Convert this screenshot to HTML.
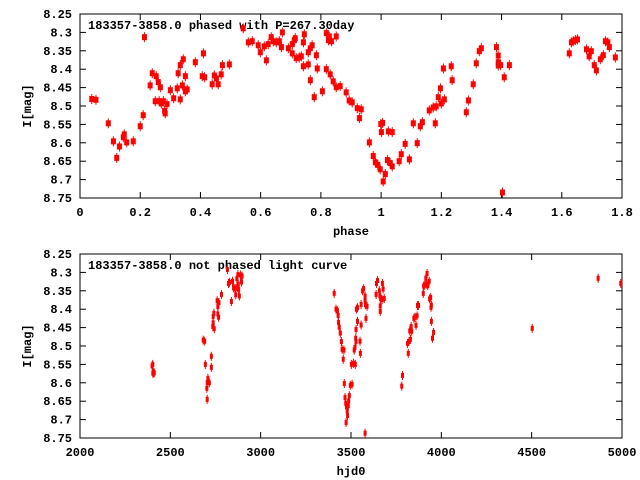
<!DOCTYPE html>
<html><head><meta charset="utf-8"><style>
body{margin:0;background:#fff;}
svg{display:block;font-family:"Liberation Mono",monospace;font-weight:bold;font-size:12px;}
</style></head><body>
<svg id="c" width="640" height="480" xmlns="http://www.w3.org/2000/svg"></svg>
<script>
const phaseX=[0.039,0.053,0.094,0.111,0.122,0.131,0.144,0.147,0.155,0.177,0.200,0.210,0.214,0.233,0.240,0.250,0.253,0.260,0.267,0.263,0.270,0.277,0.281,0.283,0.289,0.300,0.311,0.323,0.326,0.333,0.333,0.340,0.343,0.350,0.350,0.356,0.383,0.406,0.414,0.410,0.439,0.446,0.453,0.459,0.469,0.473,0.496,0.542,0.559,0.572,0.592,0.599,0.612,0.619,0.625,0.635,0.642,0.652,0.662,0.669,0.672,0.692,0.705,0.705,0.712,0.715,0.718,0.728,0.735,0.742,0.742,0.745,0.758,0.758,0.765,0.765,0.771,0.778,0.785,0.788,0.805,0.818,0.825,0.828,0.835,0.818,0.831,0.841,0.851,0.851,0.864,0.884,0.894,0.904,0.921,0.934,0.928,0.961,0.974,0.981,0.989,0.997,1.007,1.014,0.999,1.005,1.001,1.021,1.024,1.030,1.037,1.037,1.060,1.067,1.080,1.094,1.107,1.120,1.130,1.137,1.160,1.173,1.183,1.180,1.190,1.197,1.200,1.210,1.207,1.233,1.236,1.283,1.290,1.306,1.316,1.326,1.333,1.383,1.389,1.389,1.389,1.397,1.403,1.409,1.426,1.625,1.632,1.638,1.645,1.652,1.682,1.698,1.691,1.708,1.715,1.728,1.738,1.745,1.753,1.758,1.778];
const phaseMag=[8.481,8.483,8.547,8.596,8.641,8.610,8.585,8.577,8.599,8.596,8.555,8.525,8.313,8.444,8.411,8.487,8.419,8.435,8.449,8.487,8.493,8.487,8.513,8.520,8.495,8.457,8.479,8.452,8.411,8.389,8.482,8.444,8.373,8.419,8.460,8.455,8.381,8.419,8.422,8.357,8.441,8.417,8.425,8.441,8.414,8.389,8.387,8.289,8.327,8.324,8.335,8.354,8.338,8.376,8.332,8.313,8.324,8.327,8.324,8.340,8.300,8.343,8.332,8.357,8.321,8.316,8.370,8.368,8.365,8.392,8.327,8.305,8.354,8.387,8.430,8.343,8.335,8.476,8.362,8.398,8.460,8.302,8.321,8.311,8.324,8.400,8.414,8.433,8.311,8.449,8.446,8.463,8.485,8.490,8.506,8.509,8.533,8.599,8.636,8.653,8.660,8.672,8.705,8.685,8.549,8.546,8.571,8.647,8.569,8.655,8.664,8.571,8.650,8.631,8.603,8.645,8.547,8.601,8.555,8.544,8.512,8.504,8.501,8.547,8.476,8.452,8.493,8.482,8.398,8.392,8.430,8.517,8.485,8.441,8.384,8.351,8.343,8.340,8.363,8.381,8.390,8.389,8.735,8.422,8.389,8.357,8.327,8.324,8.321,8.319,8.346,8.351,8.365,8.389,8.403,8.373,8.362,8.324,8.327,8.340,8.368];
const hjd=[2403,2399,2407,2403,2411,2682,2690,2694,2704,2708,2716,2702,2704,2727,2727,2735,2743,2737,2737,2741,2759,2763,2769,2763,2767,2783,2816,2822,2828,2844,2838,2850,2858,2862,2868,2870,2876,2878,2882,2888,2897,2894,2874,3407,3417,3425,3429,3431,3435,3441,3447,3451,3461,3457,3463,3467,3471,3475,3479,3481,3473,3487,3491,3485,3496,3506,3502,3514,3524,3518,3522,3528,3526,3528,3530,3536,3536,3550,3552,3556,3556,3564,3570,3578,3578,3580,3589,3583,3578,3641,3647,3639,3657,3660,3662,3662,3664,3674,3678,3672,3684,3781,3785,3813,3817,3821,3825,3829,3833,3836,3848,3854,3860,3866,3868,3874,3900,3902,3908,3914,3919,3921,3925,3933,3935,3941,3943,3945,3945,3951,3957,4503,4868,4993];
const hjdMag=[8.550,8.554,8.573,8.574,8.573,8.484,8.487,8.550,8.599,8.588,8.600,8.615,8.645,8.528,8.558,8.447,8.453,8.437,8.420,8.411,8.377,8.393,8.382,8.413,8.422,8.360,8.292,8.330,8.327,8.324,8.379,8.342,8.344,8.361,8.317,8.339,8.332,8.346,8.364,8.307,8.310,8.326,8.306,8.357,8.400,8.404,8.417,8.436,8.449,8.465,8.488,8.509,8.511,8.536,8.602,8.640,8.656,8.665,8.676,8.689,8.708,8.649,8.635,8.662,8.607,8.604,8.550,8.547,8.550,8.511,8.504,8.488,8.479,8.455,8.400,8.396,8.433,8.487,8.520,8.443,8.387,8.350,8.344,8.364,8.375,8.388,8.392,8.425,8.737,8.330,8.322,8.360,8.350,8.364,8.391,8.406,8.371,8.330,8.345,8.374,8.371,8.609,8.580,8.493,8.520,8.488,8.459,8.482,8.447,8.460,8.425,8.422,8.444,8.418,8.390,8.390,8.357,8.337,8.335,8.316,8.332,8.303,8.336,8.324,8.372,8.368,8.395,8.389,8.433,8.479,8.463,8.452,8.316,8.330];
const topXTicks=["0","0.2","0.4","0.6","0.8","1","1.2","1.4","1.6","1.8"];
const botXTicks=["2000","2500","3000","3500","4000","4500","5000"];
const yTicks=["8.25","8.3","8.35","8.4","8.45","8.5","8.55","8.6","8.65","8.7","8.75"];

const svg=document.getElementById('c');
const NS='http://www.w3.org/2000/svg';
function mk(tag,attrs,parent){const e=document.createElementNS(NS,tag);for(const k in attrs)e.setAttribute(k,attrs[k]);(parent||svg).appendChild(e);return e;}

function panel(cfg){
  const g=mk('g',{});
  
  
  const L=80,R=622,T=cfg.top,B=cfg.top+184;
  const sx=v=>L+(v-cfg.xmin)/(cfg.xmax-cfg.xmin)*(R-L);
  const sy=v=>T+(v-8.25)/0.5*(B-T);
  const fr=mk('rect',{x:L,y:T,width:R-L,height:B-T,fill:'none',stroke:'#000','stroke-width':1},g);
  
  
  yTicks.forEach(t=>{const y=sy(parseFloat(t));
    mk('line',{x1:L,x2:L+6,y1:y,y2:y,stroke:'#000'},g);
    mk('line',{x1:R,x2:R-6,y1:y,y2:y,stroke:'#000'},g);
    const tx=mk('text',{x:72,y:y+4,'text-anchor':'end'},g);tx.textContent=t;
    
    
  });
  cfg.xt.forEach(t=>{const x=sx(parseFloat(t));
    mk('line',{x1:x,x2:x,y1:B,y2:B-6,stroke:'#000'},g);
    mk('line',{x1:x,x2:x,y1:T,y2:T+6,stroke:'#000'},g);
    const tx=mk('text',{x:x,y:B+18,'text-anchor':'middle'},g);tx.textContent=t;
    
    
  });
  const xl=mk('text',{x:351,y:B+37,'text-anchor':'middle'},g);xl.textContent=cfg.xlabel;
  
  
  const yl=mk('text',{x:0,y:0,'text-anchor':'middle',transform:`translate(31,${(T+B)/2}) rotate(-90)`},g);yl.textContent='I[mag]';
  
  
  const ti=mk('text',{x:88,y:T+15},g);ti.textContent=cfg.title;
  
  
  cfg.xs.forEach((v,i)=>{const x=sx(v),y=sy(cfg.ys[i]);
    mk('line',{x1:x,x2:x,y1:y-cfg.h/2-2,y2:y+cfg.h/2+2,stroke:'#f00','stroke-width':1},g);
    const p=mk('rect',{x:x-cfg.w/2,y:y-cfg.h/2,width:cfg.w,height:cfg.h,fill:'#f00'},g);
    
    
  });
}
panel({name:'phased-panel',top:14,xmin:0,xmax:1.8,xt:topXTicks,xlabel:'phase',title:'183357-3858.0 phased with P=267.30day',xs:phaseX,ys:phaseMag,w:5,h:6});
panel({name:'unphased-panel',top:254,xmin:2000,xmax:5000,xt:botXTicks,xlabel:'hjd0',title:'183357-3858.0 not phased light curve',xs:hjd,ys:hjdMag,w:3,h:5});
</script>
</body></html>
